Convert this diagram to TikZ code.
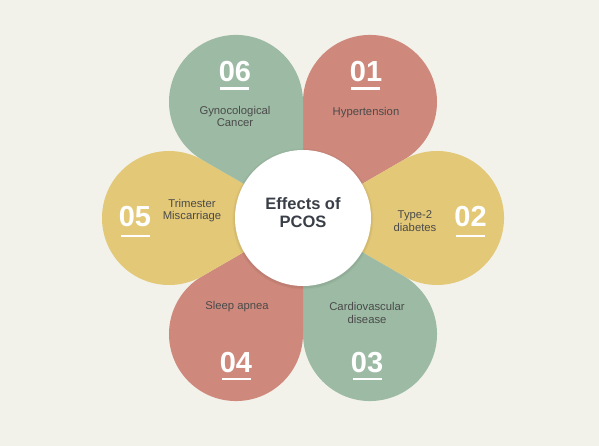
\documentclass[tikz,border=0pt]{standalone}
\usepackage{fontspec}
\setmainfont{Liberation Sans}
\usetikzlibrary{calc}
\definecolor{bg}{HTML}{F2F2EB}
\definecolor{pinkp}{HTML}{CF897C}
\definecolor{greenp}{HTML}{9DBBA4}
\definecolor{yellowp}{HTML}{E3C877}
\definecolor{labeltxt}{HTML}{4A4A4A}
\definecolor{centertxt}{HTML}{3A3F47}
\tikzset{
  numtxt/.style={text=white, inner sep=0pt, font=\fontsize{29}{29}\selectfont\bfseries},
  labtxt/.style={text=labeltxt, inner sep=0pt, align=center, font=\fontsize{11.3}{12.8}\selectfont},
  uline/.style={white, line width=2.8pt},
}
\begin{document}
\begin{tikzpicture}[x=1pt,y=1pt]
\useasboundingbox (0,0) rectangle (599,446);
\fill[bg] (0,0) rectangle (599,446);
\coordinate (O) at (303,228);
\foreach \a/\c in {60/pinkp,0/yellowp,-60/greenp,-120/pinkp,180/yellowp,120/greenp}{
  \fill[\c, shift={(O)}, rotate=\a] (0,0) -- (30:116.05) arc[start angle=120,end angle=-120,radius=67] -- cycle;
}
% centre circle with soft shadow
\fill[black, opacity=0.03] ($(O)+(0,-1)$) circle (70.5);
\fill[black, opacity=0.04] ($(O)+(0,-1)$) circle (69.3);
\node[circle, fill=white, minimum size=136pt, inner sep=0pt] (c) at (O) {};
\node[text=centertxt, inner sep=0pt, align=center, font=\fontsize{16.5}{18.5}\selectfont\bfseries] (ctitle) at (303,233.5) {Effects of\\PCOS};

% numbers
\node[numtxt] (n01) at (366,374) {01};
\node[numtxt] (n02) at (470.5,229) {02};
\node[numtxt] (n03) at (367,83) {03};
\node[numtxt] (n04) at (236,83) {04};
\node[numtxt] (n05) at (135,229) {05};
\node[numtxt] (n06) at (235,374) {06};
\draw[uline] (351,357.5) -- (380,357.5);
\draw[uline] (220,357.5) -- (249,357.5);
\draw[uline] (456,210) -- (485,210);
\draw[uline] (121,210) -- (150,210);
\draw[uline] (222,67) -- (251,67);
\draw[uline] (353,67) -- (382,67);

% labels
\node[labtxt] (l01) at (366,333) {Hypertension};
\node[labtxt] (l02) at (415,225) {Type-2\\diabetes};
\node[labtxt] (l03) at (367,133) {Cardiovascular\\disease};
\node[labtxt] (l04) at (237,139) {Sleep apnea};
\node[labtxt] (l05) at (192,235.5) {Trimester\\Miscarriage};
\node[labtxt] (l06) at (235,329.5) {Gynocological\\Cancer};
\end{tikzpicture}
\end{document}
